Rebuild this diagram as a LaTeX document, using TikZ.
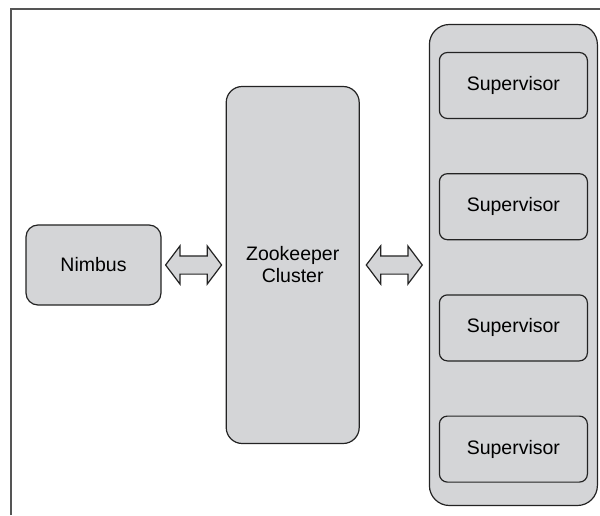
\documentclass[tikz,border=0pt]{standalone}
\usepackage{fontspec}
\setmainfont{Liberation Sans}
\usetikzlibrary{shapes.arrows, positioning, calc}
\definecolor{boxgray}{RGB}{212,213,215}
\definecolor{edgegray}{RGB}{35,35,35}
\definecolor{framegray}{RGB}{85,85,85}

\begin{document}
\begin{tikzpicture}[
    x=1pt, y=1pt,
    node distance=54pt,
    box/.style={rectangle, draw=edgegray, line width=1.2pt, fill=boxgray, rounded corners=12pt, font=\fontsize{19.5}{22}\selectfont, align=center, inner sep=0pt},
    supbox/.style={box, minimum width=148pt, minimum height=66pt, rounded corners=8pt},
    dblarrow/.style={double arrow, draw=edgegray, line width=1.2pt, fill=boxgray, minimum height=56pt, minimum width=37pt, double arrow head extend=10pt, double arrow tip angle=106, inner xsep=0pt, inner ysep=8.5pt}
]
\useasboundingbox (0,0) rectangle (600,515);
% page frame
\draw[framegray, line width=2pt] (11,0) -- (11,506) -- (600,506);

\node[box, minimum width=135pt, minimum height=80pt] (nimbus) at (93.5,250) {Nimbus};
\node[box, minimum width=133pt, minimum height=357pt, rounded corners=16pt, right=64pt of nimbus] (zk) {Zookeeper\\Cluster};
\node[box, minimum width=168pt, minimum height=481pt, rounded corners=20pt, right=69pt of zk] (team) {};

% supervisors
\node[supbox, below=28pt of team.north] (sup1) {Supervisor};
\node[supbox, below=of sup1] (sup2) {Supervisor};
\node[supbox, below=of sup2] (sup3) {Supervisor};
\node[supbox, below=of sup3] (sup4) {Supervisor};

\node[dblarrow] (linkL) at ($(nimbus.east)!0.5!(zk.west)$) {};
\node[dblarrow] (linkR) at ($(zk.east)!0.5!(team.west)$) {};
\end{tikzpicture}
\end{document}
